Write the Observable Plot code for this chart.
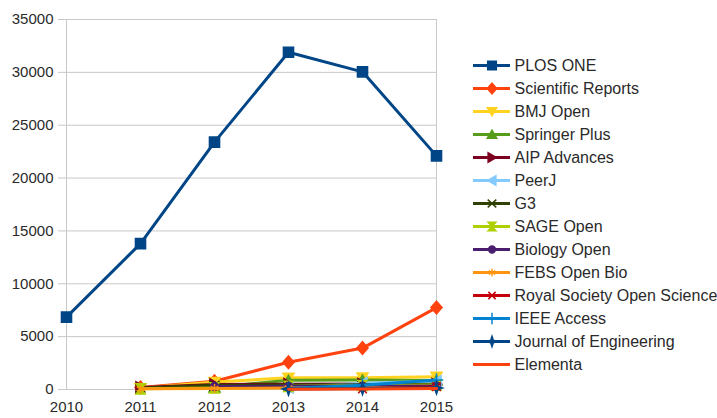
<!DOCTYPE html>
<html>
<head>
<meta charset="utf-8">
<script src="https://cdn.jsdelivr.net/npm/d3@7"></script>
<script src="https://cdn.jsdelivr.net/npm/@observablehq/plot@0.6"></script>
<style>
  html, body { margin: 0; padding: 0; background: #fff; }
  #wrap { display: flex; width: 717px; height: 418px; overflow: hidden; }
  svg { font-family: "Liberation Sans", Arial, sans-serif; }
</style>
</head>
<body>
<div id="wrap"></div>
<script>
// ---- data ----
const years = [2010, 2011, 2012, 2013, 2014, 2015];
const yTicks = [0, 5000, 10000, 15000, 20000, 25000, 30000, 35000];
const journals = [
  "PLOS ONE", "Scientific Reports", "BMJ Open", "Springer Plus", "AIP Advances",
  "PeerJ", "G3", "SAGE Open", "Biology Open", "FEBS Open Bio",
  "Royal Society Open Science", "IEEE Access", "Journal of Engineering", "Elementa"
];
const colors = [
  "#004586", "#ff420e", "#ffd320", "#579d1c", "#7e0021",
  "#83caff", "#314004", "#aecf00", "#4b1f6f", "#ff950e",
  "#c5000b", "#0084d1", "#004586", "#ff420e"
];
const plosOne            = [6850, 13800, 23400, 31900, 30050, 22100];
const scientificReports  = [null, 200, 780, 2580, 3920, 7750];
const bmjOpen            = [null, 120, 700, 1100, 1120, 1200];
const springerPlus       = [null, null, 200, 880, 900, 850];
const aipAdvances        = [null, 200, 480, 500, 520, 520];
const peerJ              = [null, null, null, 200, 600, 780];
const g3                 = [null, 150, 400, 420, 450, 500];
const sageOpen           = [null, 60, 150, 300, 380, 420];
const biologyOpen        = [null, null, 280, 300, 300, 320];
const febsOpenBio        = [null, 60, 100, 150, 150, 160];
const royalSociety       = [null, null, null, null, 60, 260];
const ieeeAccess         = [null, null, null, 100, 400, 900];
const journalEngineering = [null, null, null, 50, 100, 150];
const elementa           = [null, null, null, 20, 50, 100];
const seriesValues = [
  plosOne, scientificReports, bmjOpen, springerPlus, aipAdvances, peerJ, g3,
  sageOpen, biologyOpen, febsOpenBio, royalSociety, ieeeAccess, journalEngineering, elementa
];

// ---- custom symbols ----
function poly(pts) {
  return {
    draw(c, size) {
      const s = Math.sqrt(size) * 0.62;
      c.moveTo(pts[0][0] * s, pts[0][1] * s);
      for (let i = 1; i < pts.length; i++) c.lineTo(pts[i][0] * s, pts[i][1] * s);
      c.closePath();
    }
  };
}
const sqSym = poly([[-1,-1],[1,-1],[1,1],[-1,1]]);
const diaSym = poly([[0,-1.25],[1.1,0],[0,1.25],[-1.1,0]]);
const downTri = poly([[-1.1,-0.9],[1.1,-0.9],[0,1.0]]);
const upTri = poly([[-1.1,0.9],[1.1,0.9],[0,-1.0]]);
const rightTri = poly([[-0.9,-1.1],[-0.9,1.1],[1.0,0]]);
const leftTri = poly([[0.9,-1.1],[0.9,1.1],[-1.0,0]]);
const bowtie = poly([[-1,-0.9],[0,0],[-1,0.9],[1,-0.9],[0,0],[1,0.9]]);
const hourglass = poly([[-0.9,-1],[0.9,-1],[-0.9,1],[0.9,1]]);
const starSym = poly([[0,-1.2],[0.3,-0.3],[1.2,0],[0.3,0.3],[0,1.2],[-0.3,0.3],[-1.2,0],[-0.3,-0.3]]);
const symbols = [
  sqSym, diaSym, downTri, upTri, rightTri, leftTri, bowtie, hourglass,
  "circle", "asterisk", "times", "plus", starSym, null
];
const symR = [4.6, 4.6, 4.6, 4.6, 4.6, 4.6, 4.6, 4.6, 4.0, 4.2, 4.0, 4.4, 4.6, 0];

const rows = [];
journals.forEach((j, i) => {
  seriesValues[i].forEach((v, k) => {
    if (v !== null) rows.push({journal: j, idx: i, year: years[k], value: v});
  });
});

const textColor = "#2a2a2a";
const gridColor = "#c8c8c8";

const marks = [
  Plot.ruleY(yTicks, {y: d => d, stroke: gridColor, strokeWidth: 1, x1: () => 2010, x2: () => 2015}),
  Plot.ruleX([2010, 2015], {x: d => d, stroke: gridColor, strokeWidth: 1, y1: () => 0, y2: () => 35000}),
  Plot.axisY(yTicks, {tickSize: 8, tickPadding: 5, fontSize: 15, stroke: gridColor, fill: textColor, tickFormat: d => String(d), label: null}),
  Plot.axisX(years, {tickSize: 0, tickPadding: 12, fontSize: 15, fill: textColor, tickFormat: d => String(d), label: null})
];
journals.forEach((j, i) => {
  const data = rows.filter(r => r.idx === i);
  marks.push(Plot.line(data, {x: "year", y: "value", stroke: colors[i], strokeWidth: 3}));
  if (symR[i] > 0) {
    marks.push(Plot.dot(data, {x: "year", y: "value", symbol: symbols[i], r: symR[i],
      fill: colors[i], stroke: colors[i], strokeWidth: 1.5}));
  }
});

const chart = Plot.plot({
  width: 460,
  height: 418,
  marginLeft: 66,
  marginRight: 24,
  marginTop: 19,
  marginBottom: 29,
  x: {type: "linear", domain: [2010, 2015], label: null},
  y: {type: "linear", domain: [0, 35000], label: null},
  style: {fontFamily: "'Liberation Sans', Arial, sans-serif", fontSize: "15px", background: "#fff", overflow: "visible"},
  marks
});

// ---- legend ----
const legendMarks = [];
journals.forEach((j, i) => {
  legendMarks.push(Plot.ruleY([j], {y: d => d, x1: () => 0, x2: () => 1, stroke: colors[i], strokeWidth: 3}));
  if (symR[i] > 0) {
    legendMarks.push(Plot.dot([j], {y: d => d, x: () => 0.5, symbol: symbols[i], r: symR[i] * 0.85,
      fill: colors[i], stroke: colors[i], strokeWidth: 1.5}));
  }
});
legendMarks.push(Plot.text(journals, {y: d => d, x: () => 1, text: d => d, dx: 4, textAnchor: "start",
  fill: textColor, fontSize: 16}));

const legend = Plot.plot({
  width: 257,
  height: 418,
  margin: 0,
  x: {type: "linear", domain: [0, 1], range: [13, 50], axis: null},
  y: {type: "point", domain: journals, range: [61.5, 367.5], padding: 0, axis: null},
  style: {fontFamily: "'Liberation Sans', Arial, sans-serif", fontSize: "16px", background: "#fff", overflow: "visible"},
  marks: legendMarks
});

const wrap = document.getElementById("wrap");
wrap.appendChild(chart);
wrap.appendChild(legend);
</script>
</body>
</html>
